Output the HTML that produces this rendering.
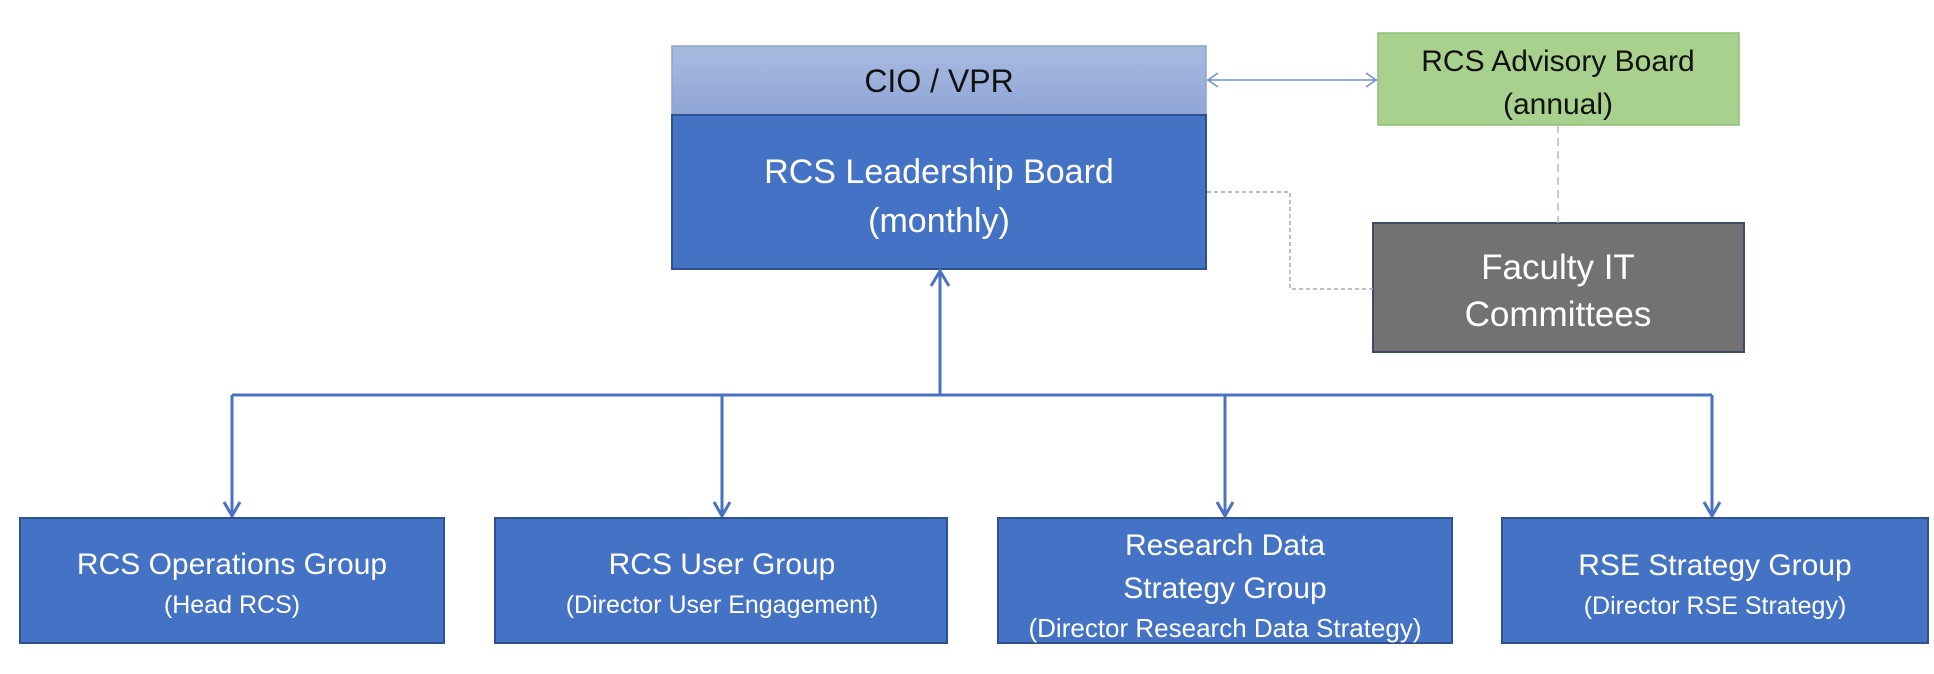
<!DOCTYPE html>
<html><head><style>
html,body{margin:0;padding:0;background:#fff;}
svg{display:block;}
text{font-family:"Liberation Sans",sans-serif;text-anchor:middle;}
</style></head><body>
<svg width="1934" height="674" viewBox="0 0 1934 674" xmlns="http://www.w3.org/2000/svg">
<defs>
<linearGradient id="g1" x1="0" y1="0" x2="0" y2="1"><stop offset="0" stop-color="#a9badf"/><stop offset="1" stop-color="#8fa6d8"/></linearGradient>
</defs>
<rect x="672" y="46" width="534" height="69" fill="url(#g1)" stroke="#8fa3cc" stroke-width="1.5"/>
<text x="939" y="92" font-size="32" fill="#111">CIO / VPR</text>
<rect x="672" y="115" width="534" height="154" fill="#4472c4" stroke="#2f528f" stroke-width="2"/>
<text x="939" y="183" font-size="34" fill="#fff">RCS Leadership Board</text>
<text x="939" y="232" font-size="34" fill="#fff">(monthly)</text>
<rect x="1378" y="33" width="361" height="92" fill="#a9d18e" stroke="#8cbf70" stroke-width="1.5"/>
<text x="1558" y="71" font-size="30" fill="#111">RCS Advisory Board</text>
<text x="1558" y="114" font-size="30" fill="#111">(annual)</text>
<rect x="1373" y="223" width="371" height="129" fill="#727272" stroke="#3e4a66" stroke-width="2"/>
<text x="1558" y="279" font-size="35" fill="#fff">Faculty IT</text>
<text x="1558" y="326" font-size="35" fill="#fff">Committees</text>
<line x1="1207" y1="80" x2="1377" y2="80" stroke="#6f8fcf" stroke-width="1.5"/>
<polyline points="1218,73 1208,80 1218,87" fill="none" stroke="#6f8fcf" stroke-width="1.5"/>
<polyline points="1366,73 1376,80 1366,87" fill="none" stroke="#6f8fcf" stroke-width="1.5"/>
<polyline points="1207,192 1290,192 1290,289 1373,289" fill="none" stroke="#aaa" stroke-width="1.5" stroke-dasharray="4,3"/>
<line x1="1558" y1="125" x2="1558" y2="223" stroke="#bbb" stroke-width="1.5" stroke-dasharray="8,5"/>
<g stroke="#4a72c0" stroke-width="3" fill="none">
<line x1="940" y1="395" x2="940" y2="272"/>
<polyline points="931,286 940,271 949,286"/>
<line x1="232" y1="395" x2="1712" y2="395"/>
<line x1="232" y1="395" x2="232" y2="516"/>
<line x1="722" y1="395" x2="722" y2="516"/>
<line x1="1225" y1="395" x2="1225" y2="516"/>
<line x1="1712" y1="395" x2="1712" y2="516"/>
<polyline points="224,502 232,516 240,502"/>
<polyline points="714,502 722,516 730,502"/>
<polyline points="1217,502 1225,516 1233,502"/>
<polyline points="1704,502 1712,516 1720,502"/>
</g>
<g fill="#4472c4" stroke="#2f528f" stroke-width="2">
<rect x="20" y="518" width="424" height="125"/>
<rect x="495" y="518" width="452" height="125"/>
<rect x="998" y="518" width="454" height="125"/>
<rect x="1502" y="518" width="426" height="125"/>
</g>
<g fill="#fff">
<text x="232" y="574" font-size="30">RCS Operations Group</text>
<text x="232" y="613" font-size="25">(Head RCS)</text>
<text x="722" y="574" font-size="30">RCS User Group</text>
<text x="722" y="613" font-size="25">(Director User Engagement)</text>
<text x="1225" y="555" font-size="30">Research Data</text>
<text x="1225" y="598" font-size="30">Strategy Group</text>
<text x="1225" y="637" font-size="26">(Director Research Data Strategy)</text>
<text x="1715" y="575" font-size="30">RSE Strategy Group</text>
<text x="1715" y="614" font-size="25">(Director RSE Strategy)</text>
</g>
</svg>
</body></html>
